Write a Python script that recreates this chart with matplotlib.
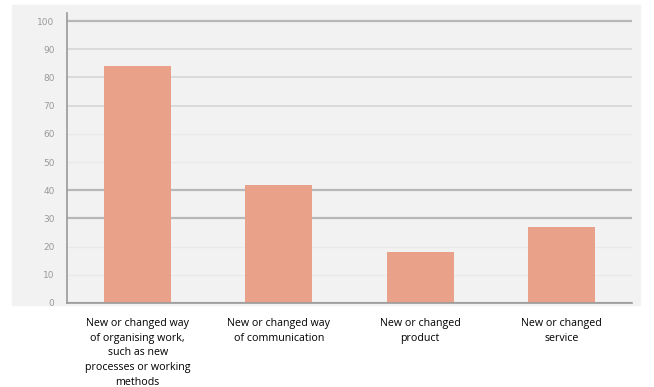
import matplotlib.pyplot as plt
from matplotlib.patches import Rectangle

categories = ["New or changed way\nof organising work,\nsuch as new\nprocesses or working\nmethods",
              "New or changed way\nof communication",
              "New or changed\nproduct",
              "New or changed\nservice"]
values = [84, 42, 18, 27]
yticks = [0, 10, 20, 30, 40, 50, 60, 70, 80, 90, 100]
dark_grid = [0, 30, 40, 100]
mid_grid = [70, 80, 90]


def main():
    fig = plt.figure(figsize=(6.54, 3.87), dpi=100)
    W, H = 654, 387
    fig.add_artist(Rectangle((12 / W, 1 - 305 / H), 628 / W, 300 / H,
                             transform=fig.transFigure, color="#f2f2f2", zorder=-10))
    ax = fig.add_axes([67 / W, 1 - 303 / H, 565 / W, 103 * 2.82 / H])
    ax.set_zorder(1)
    ax.set_facecolor("#f2f2f2")

    x = range(len(values))
    for t in yticks:
        if t in dark_grid:
            ax.axhline(t, color="#b8b8b8", lw=1.6, zorder=1)
        elif t in mid_grid:
            ax.axhline(t, color="#d6d6d6", lw=1.2, zorder=1)
        else:
            ax.axhline(t, color="#e9e9e9", lw=1.0, zorder=1)

    ax.bar(x, values, width=0.475, color="#e9a189", zorder=2)

    ax.set_xlim(-0.5, 3.5)
    ax.set_ylim(0, 103)
    ax.set_yticks(yticks)
    ax.set_yticklabels([str(t) for t in yticks], color="#9a9a9a", fontsize=6.5,
                       family="DejaVu Sans")
    ax.set_xticks(list(x))
    ax.set_xticklabels(categories, fontsize=7.7, family="Open Sans", linespacing=1.45)
    ax.tick_params(axis="y", length=0, pad=9)
    ax.tick_params(axis="x", length=0, pad=11)

    for s in ["top", "right"]:
        ax.spines[s].set_visible(False)
    ax.spines["left"].set_color("#9a9a9a")
    ax.spines["bottom"].set_color("#9a9a9a")
    ax.spines["left"].set_linewidth(1.2)
    ax.spines["bottom"].set_linewidth(1.2)

    fig.savefig("out.png", dpi=100, facecolor="white")


if __name__ == "__main__":
    main()
